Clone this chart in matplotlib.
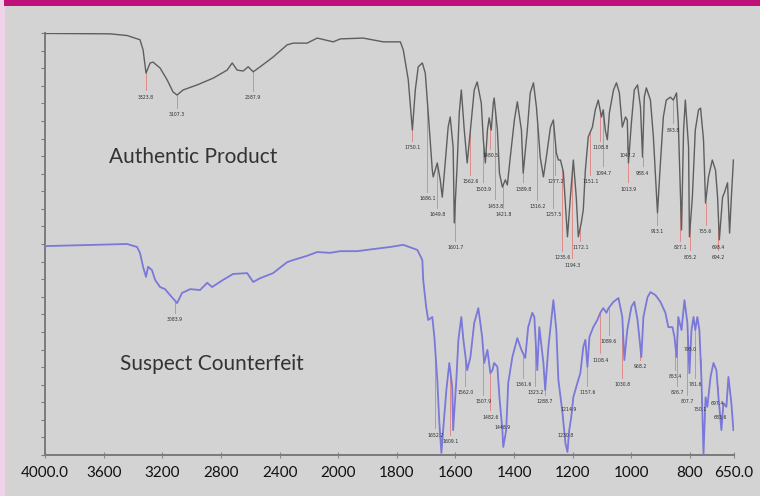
import numpy as np
import matplotlib
matplotlib.use("Agg")
import matplotlib.pyplot as plt
from matplotlib.patches import Rectangle

# ---------------- data (wavenumber cm-1, %T on a 0-100 panel scale) ----------------
auth_wn = [4000, 3556, 3440, 3352, 3331, 3311, 3283, 3263, 3215, 3167, 3126, 3099, 3058, 2962,
           2853, 2758, 2723, 2689, 2648, 2614, 2580, 2532, 2444, 2348, 2307, 2212, 2143, 2034,
           1993, 1915, 1846, 1788, 1778, 1761, 1747, 1737, 1727, 1713, 1703, 1693, 1679, 1676,
           1662, 1652, 1645, 1635, 1625, 1618, 1608, 1604, 1594, 1587, 1580, 1570, 1560, 1549,
           1536, 1526, 1512, 1505, 1498, 1491, 1485, 1478, 1471, 1468, 1457, 1450, 1440, 1430,
           1423, 1413, 1399, 1389, 1375, 1369, 1355, 1345, 1334, 1324, 1317, 1311, 1300, 1290,
           1276, 1266, 1256, 1249, 1242, 1232, 1218, 1208, 1198, 1188, 1181, 1171, 1164, 1157,
           1147, 1133, 1123, 1113, 1102, 1096, 1089, 1082, 1075, 1061, 1051, 1041, 1031, 1020,
           1014, 1010, 1000, 990, 979, 969, 962, 956, 949, 935, 925, 915, 911, 901, 891, 881,
           867, 857, 846, 840, 829, 822, 816, 805, 802, 792, 782, 771, 764, 754, 747, 737, 724,
           713, 706, 700, 689, 683, 672, 665, 659, 652]
auth_t = [99.9, 99.8, 99.4, 98.4, 96.0, 90.5, 92.9, 93.1, 91.7, 88.9, 86.0, 85.3, 86.5, 87.7,
          89.3, 91.2, 92.9, 91.2, 91.0, 92.0, 90.8, 92.0, 94.3, 97.2, 97.6, 97.6, 98.8, 97.9,
          98.6, 98.8, 97.9, 97.9, 96.0, 88.9, 77.0, 86.5, 92.0, 92.9, 90.5, 81.1, 67.5, 65.9,
          69.2, 65.2, 61.1, 69.2, 77.7, 80.1, 73.0, 55.0, 69.2, 81.1, 86.5, 77.0, 69.2, 77.0,
          86.5, 88.4, 83.4, 74.7, 69.2, 77.0, 79.9, 77.0, 83.4, 84.6, 77.0, 66.8, 63.5, 65.2,
          64.0, 70.6, 79.4, 83.7, 77.0, 66.8, 77.0, 85.8, 88.2, 82.5, 76.3, 70.6, 65.9, 70.6,
          77.7, 79.4, 71.6, 69.9, 69.9, 67.1, 51.7, 61.1, 69.9, 61.1, 51.7, 55.0, 58.1, 67.5,
          75.4, 77.7, 81.8, 84.1, 80.1, 81.8, 77.0, 74.7, 81.1, 86.5, 88.2, 85.8, 77.7, 80.1,
          79.4, 69.2, 78.7, 86.5, 87.7, 82.5, 70.6, 84.8, 87.0, 84.1, 75.4, 62.8, 57.4, 69.2,
          80.1, 84.1, 84.8, 84.1, 85.8, 78.7, 53.3, 77.0, 84.1, 73.0, 51.7, 61.1, 77.0, 81.8,
          82.2, 74.7, 59.7, 65.9, 69.9, 67.5, 61.1, 51.0, 61.1, 62.1, 64.5, 52.6, 61.1, 69.9]

cf_wn = [4000, 3440, 3372, 3352, 3331, 3311, 3297, 3270, 3249, 3215, 3181, 3147, 3099, 3065,
         3010, 2942, 2894, 2860, 2785, 2717, 2621, 2580, 2532, 2444, 2348, 2307, 2212, 2143,
         2055, 1993, 1935, 1880, 1822, 1778, 1730, 1713, 1710, 1700, 1693, 1679, 1672, 1662,
         1655, 1648, 1642, 1631, 1621, 1611, 1608, 1597, 1590, 1580, 1573, 1560, 1549, 1536,
         1522, 1509, 1502, 1491, 1481, 1474, 1468, 1457, 1450, 1440, 1437, 1427, 1420, 1406,
         1389, 1375, 1362, 1352, 1338, 1331, 1321, 1314, 1300, 1294, 1283, 1266, 1256, 1249,
         1235, 1225, 1218, 1212, 1205, 1198, 1184, 1174, 1164, 1157, 1150, 1143, 1130, 1116,
         1106, 1096, 1085, 1078, 1061, 1044, 1031, 1024, 1014, 1000, 990, 979, 966, 959, 945,
         935, 918, 901, 884, 874, 860, 853, 846, 840, 829, 822, 819, 809, 802, 795, 788, 782,
         775, 768, 761, 754, 747, 741, 730, 720, 710, 703, 693, 686, 676, 669, 659, 652]
cf_t = [49.5, 50.0, 49.3, 47.9, 44.6, 42.2, 44.6, 43.8, 41.5, 39.8, 39.3, 37.9, 36.0, 38.4,
        39.3, 39.1, 40.8, 39.8, 41.5, 42.9, 43.1, 41.0, 41.9, 43.1, 45.7, 46.2, 47.2, 48.1,
        47.9, 48.3, 48.3, 48.8, 49.3, 49.8, 48.6, 46.2, 41.5, 35.1, 32.0, 32.7, 28.0, 17.8,
        7.6, 0.5, 5.9, 15.4, 21.8, 16.1, 5.9, 17.8, 27.3, 32.7, 27.3, 20.1, 23.2, 31.3,
        34.8, 28.0, 21.8, 24.9, 19.4, 20.1, 21.8, 20.9, 13.7, 5.9, 1.9, 5.9, 17.1, 23.2,
        27.7, 24.9, 23.0, 30.3, 33.7, 32.7, 20.1, 30.3, 21.8, 15.4, 25.6, 36.7, 29.6, 17.8,
        10.0, 2.8, 0.7, 5.9, 9.0, 13.7, 17.1, 19.4, 25.6, 27.3, 20.9, 28.0, 30.3, 32.0,
        33.7, 34.8, 33.7, 34.8, 36.3, 37.2, 32.7, 22.5, 29.6, 35.1, 36.3, 32.0, 23.2, 32.7, 37.4,
        38.6, 37.9, 36.3, 33.7, 30.3, 30.3, 28.0, 23.2, 32.7, 29.6, 34.4, 36.7, 31.3, 19.4, 29.6,
        32.7, 29.6, 32.7, 29.6, 17.8, 0.2, 13.7, 11.4, 18.5, 21.8, 20.1, 13.7, 5.9, 12.3,
        11.4, 18.5, 12.3, 5.9]

# peak annotations: label text, label position (wavenumber, %T)
auth_lbl = ["3323.8", "3107.3", "2587.9", "1750.1", "1686.1", "1649.8", "1601.7", "1562.6",
            "1503.9", "1480.5", "1453.8", "1421.8", "1389.8", "1316.2", "1277.2", "1257.5",
            "1235.6", "1172.1", "1194.3", "1151.1", "1108.8", "1094.7", "1047.2", "1013.9",
            "988.4", "913.1", "843.8", "827.1", "805.2", "755.6", "698.4", "694.2"]
auth_lbl_wn = [3311, 3099, 2580, 1747, 1696, 1662, 1601, 1549, 1505, 1481, 1464, 1437, 1369,
               1321, 1259, 1266, 1235, 1174, 1201, 1140, 1106, 1096, 1014, 1010, 962, 911, 857,
               833, 799, 747, 703, 703]
auth_lbl_t = [84.8, 80.6, 84.6, 72.8, 60.7, 56.9, 49.1, 64.7, 63.0, 70.9, 59.0, 56.9, 63.0,
              58.8, 64.7, 56.9, 46.7, 49.1, 45.0, 64.7, 72.8, 66.8, 70.9, 63.0, 66.8, 52.9, 77.0,
              49.1, 46.9, 52.9, 49.1, 46.9]

cf_lbl = ["3083.9", "1652.2", "1609.1", "1562.0", "1507.9", "1482.6", "1448.9", "1361.6",
          "1323.2", "1288.7", "1230.8", "1214.9", "1157.6", "1108.4", "1089.6", "1030.8",
          "968.2", "853.4", "826.7", "807.7", "781.6", "795.0", "750.1", "697.4", "683.6"]
cf_lbl_wn = [3113, 1669, 1618, 1567, 1505, 1481, 1440, 1369, 1328, 1294, 1225, 1215, 1150,
             1106, 1078, 1031, 969, 850, 843, 809, 782, 799, 764, 706, 696]
cf_lbl_t = [32.0, 4.7, 3.1, 14.7, 12.6, 9.0, 6.6, 16.6, 14.7, 12.6, 4.7, 10.7, 14.7, 22.5,
            26.8, 16.6, 20.9, 18.5, 14.7, 12.6, 16.6, 24.9, 10.7, 12.3, 8.8]

xtick_vals = [4000, 3600, 3200, 2800, 2400, 2000, 1800, 1600, 1400, 1200, 1000, 800, 650]
xtick_text = ["4000.0", "3600", "3200", "2800", "2400", "2000", "1800", "1600", "1400",
              "1200", "1000", "800", "650.0"]

# ---------------- figure ----------------
BG = "#d3d3d3"
fig = plt.figure(figsize=(7.6, 4.96), dpi=100, facecolor=BG)
# decorative frame: pink strip at left, magenta bar on top
fig.patches.append(Rectangle((0, 0), 5 / 760, 1, transform=fig.transFigure,
                             facecolor="#efd3e8", edgecolor="none", zorder=0))
fig.patches.append(Rectangle((4 / 760, 1 - 6 / 496), 1, 6 / 496, transform=fig.transFigure,
                             facecolor="#c0117a", edgecolor="none", zorder=0))

ax = fig.add_axes([45 / 760, 41 / 496, (734 - 45) / 760, (455 - 33) / 496])
ax.set_facecolor(BG)


def fwd(x):
    x = np.asarray(x, dtype=float)
    return np.where(x <= 2000, x - 650, 1350 + (x - 2000) / 2)


def inv(u):
    u = np.asarray(u, dtype=float)
    return np.where(u <= 1350, u + 650, 2000 + 2 * (u - 1350))


ax.set_xscale("function", functions=(fwd, inv))
ax.set_xlim(4000, 650)
ax.set_ylim(0, 100)

ax.plot(auth_wn, auth_t, color="#5e5e5e", lw=1.0, zorder=3)
ax.plot(cf_wn, cf_t, color="#7a78d8", lw=1.3, zorder=3)

# peak markers and labels
def annotate(lbls, wns, ts, series_wn, series_t):
    swn = np.asarray(series_wn)[::-1]
    st = np.asarray(series_t)[::-1]
    for s, w, t in zip(lbls, wns, ts):
        top = np.interp(w, swn, st)
        if top > t + 2:
            ax.plot([w, w], [t + 1.6, top], color="#e07e7e", lw=0.6, zorder=2)
        ax.text(w, t, s, fontsize=3.3, color="#2e2e2e", ha="center", va="center", zorder=4)


annotate(auth_lbl, auth_lbl_wn, auth_lbl_t, auth_wn, auth_t)
annotate(cf_lbl, cf_lbl_wn, cf_lbl_t, cf_wn, cf_t)

# panel captions
ax.text(2990, 70.5, "Authentic Product", fontsize=15, family="Lato", color="#333333",
        ha="center", va="center")
ax.text(2860, 21.5, "Suspect Counterfeit", fontsize=15, family="Lato", color="#333333",
        ha="center", va="center")

# axes styling
for side in ("top", "right"):
    ax.spines[side].set_visible(False)
for side in ("left", "bottom"):
    ax.spines[side].set_color("#7a7a7a")
    ax.spines[side].set_linewidth(1.4)

ax.set_xticks(xtick_vals)
ax.set_xticklabels(xtick_text, family="Lato", fontsize=11, color="#111111")
ax.tick_params(axis="x", direction="inout", length=4, width=0.8, color="#8a8a8a", pad=6)
ax.set_yticks(np.linspace(0, 100, 25))
ax.set_yticklabels([])
ax.tick_params(axis="y", direction="out", length=3, width=0.8, color="#7a7a7a")

fig.savefig("out.png", dpi=100, facecolor=BG)
